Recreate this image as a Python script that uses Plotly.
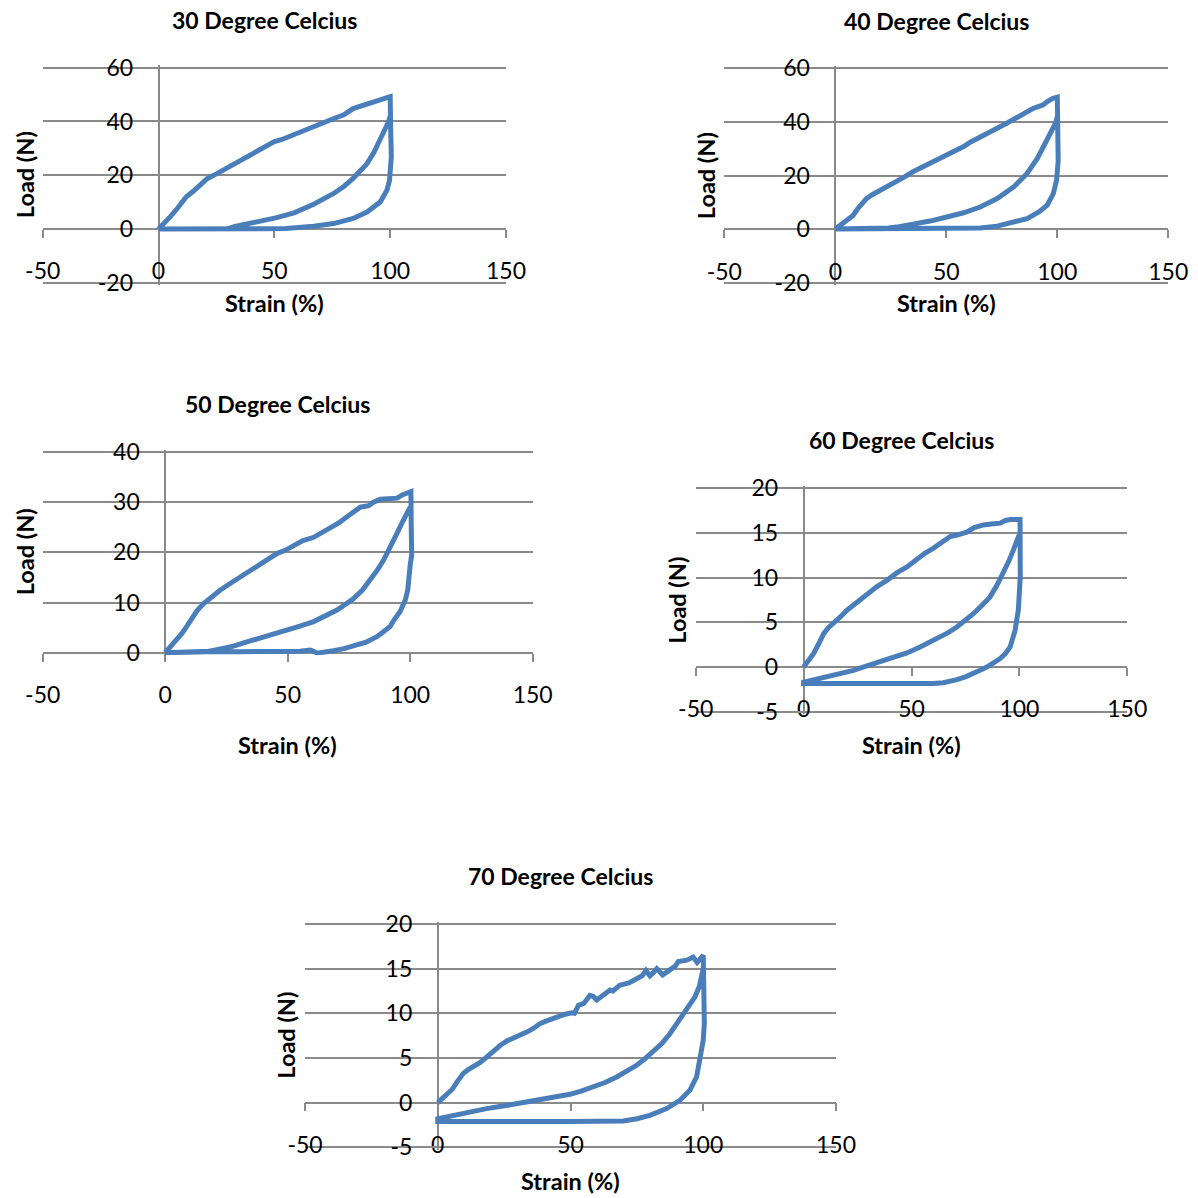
import plotly.graph_objects as go

W, H = 1198, 1198

# ---- data: load–strain loops at each test temperature ----
titles = ["30 Degree Celcius", "40 Degree Celcius", "50 Degree Celcius",
          "60 Degree Celcius", "70 Degree Celcius"]

x_ticks = [-50, 0, 50, 100, 150]

strain_30 = [0, 3, 5, 8, 10, 12, 15, 18, 21, 25, 30, 33, 37, 41, 44, 47, 50, 53, 57, 62, 67, 72,
             76, 80, 84, 88, 92, 95, 98, 100,
             100.2, 100.5,
             99.7, 98.6, 95.7, 93, 90, 84, 80, 75.6, 67, 60, 56, 55, 45, 30, 15, 0,
             10, 20, 30, 33, 38, 44, 51, 58.5, 67, 75.6, 80, 84, 87, 90, 93, 95.7, 98, 99.3, 100]
load_30 = [0, 2.5, 4.5, 7.5, 10, 12, 14, 16.5, 18.7, 20.5, 23, 24.5, 26.5, 28, 29.5, 31, 32.5, 33.2,
           34.5, 36.5, 38.2, 39.8, 41.2, 42.5, 44.8, 45.8, 46.8, 47.5, 48.6, 49.2,
           38, 26.8,
           18, 14.4, 10, 8, 6.3, 3.9, 2.8, 2, 1, 0.5, 0.6, 0.2, 0.1, 0.05, 0, 0,
           0, 0, 0.1, 0.9, 1.8, 2.9, 4.2, 6, 9.2, 13.2, 15.8, 18.8, 21.5, 24.3, 28.5, 33, 37, 39.9, 42]

strain_40 = [0, 2, 5, 8, 10, 11.8, 14, 17, 20, 24, 27.6, 31, 35, 39, 42.7, 46, 50.2, 54, 57.8, 61,
             65.3, 69, 72.9, 77, 80.4, 83, 86.4, 89, 91.7, 93.5, 95.5, 98, 100,
             100.3, 100.4, 100.4,
             99.7, 98.2, 95.5, 91.7, 86.4, 80.4, 72.9, 65.3, 58.5, 57.5, 56.5, 45, 30, 15, 0,
             10, 20, 24, 27.6, 35, 42.7, 50.2, 57.8, 65.3, 72.9, 80.4, 86.4, 91, 95.5, 99.2, 100]
load_40 = [0, 1.2, 3.25, 5.1, 7.5, 9.5, 11.4, 13, 14.3, 16, 17.6, 19.4, 21.4, 23, 24.3, 25.7, 27.4,
           29, 30.8, 32.5, 34.5, 36, 37.6, 39.4, 41, 42.6, 43.9, 45, 45.8, 46.3, 47.6, 48.8, 49.2,
           40, 33, 25.5,
           18.25, 13.25, 8.9, 6.4, 3.9, 2.6, 1.1, 0.4, 0.35, 0.6, 0.2, 0.1, 0.05, 0, 0,
           0, 0.1, 0.4, 0.75, 1.75, 3, 4.5, 6.1, 8.25, 11.4, 15.75, 20.75, 26.4, 33.25, 39.5, 42]

strain_50 = [0, 3.5, 6.9, 9, 11, 13, 15.7, 19, 22.5, 26.5, 30.7, 35, 38.8, 42, 45.7, 49, 52.4, 56,
             60.6, 64, 67.4, 71, 74.2, 77, 79.6, 83, 85, 87.8, 91, 94.6, 97, 100.3,
             100.4, 100.6,
             100, 99.7, 99, 98, 95.9, 93.5, 91.8, 88, 86.4, 82, 78.3, 73, 68.7, 64, 61.9, 60.5, 59.2,
             55, 45, 30, 15, 5, 0,
             10, 17, 22, 27.9, 33, 38.8, 44, 49.7, 55, 60.6, 65, 70.1, 73.5, 76.9, 80.5, 83.7,
             86.5, 89.2, 92, 94.6, 97, 99.3, 100]
load_50 = [0, 1.9, 3.9, 5.4, 6.85, 8.4, 9.8, 11.2, 12.5, 13.8, 15.1, 16.4, 17.8, 18.8, 19.8, 20.4,
           21.4, 22.3, 23, 24, 24.8, 25.9, 27.1, 28.2, 29, 29.3, 30, 30.6, 30.8, 30.8, 31.5, 32.1,
           26, 19.5,
           17.5, 15.1, 12.5, 10.5, 8.2, 6.6, 5.2, 3.8, 3.2, 2.1, 1.5, 0.8, 0.4, 0, -0.1, 0.3, 0.55,
           0.3, 0.2, 0.2, 0.25, 0.2, 0,
           0.1, 0.2, 0.7, 1.3, 2.1, 2.9, 3.7, 4.5, 5.3, 6.2, 7.2, 8.5, 9.6, 10.8, 12.5, 14.5,
           16.4, 18.5, 21, 23.8, 26.2, 28.4, 29]

strain_60 = [0, 2.5, 4.6, 7, 9.3, 11.5, 13.9, 17, 20.1, 24.5, 29.3, 34, 38.6, 43, 47.9, 52.5, 56,
             60.2, 64, 67.9, 71.5, 75.6, 79, 83.3, 87, 91.1, 93.5, 95.7, 100.3,
             100.4, 100.4,
             99.5, 98, 95.7, 93.5, 91.1, 88, 84.9, 81.5, 78.7, 75, 71, 67.5, 64.8, 60, 40, 20, 0,
             0,
             10.8, 23.1, 29, 35.5, 41, 47.9, 54, 58.5, 63.3, 67, 71, 75, 78.7, 82.5, 86.4, 89.7,
             92.6, 95, 97.2, 99.9]
load_60 = [0, 0.7, 1.5, 2.6, 3.74, 4.4, 4.87, 5.6, 6.36, 7.2, 8.2, 9, 9.7, 10.5, 11.2, 12.15, 12.7,
           13.3, 13.9, 14.6, 14.8, 15.1, 15.6, 15.9, 16.0, 16.1, 16.4, 16.5, 16.5,
           13, 10.1,
           6.36, 4.1, 2.24, 1.5, 0.94, 0.45, 0, -0.4, -0.74, -1.1, -1.41, -1.62, -1.75, -1.85,
           -1.85, -1.85, -1.85,
           -1.7,
           -1.1, -0.37, 0.1, 0.56, 1.05, 1.57, 2.24, 2.75, 3.36, 3.85, 4.48, 5.2, 5.98, 6.85, 7.85,
           9.2, 10.5, 11.8, 13.1, 14.8]

strain_70 = [0, 3.4, 5.5, 7.2, 9.6, 11.5, 13.4, 16, 18.4, 21, 23.5, 26, 28.5, 31, 33.5, 36, 38.5,
             40.5, 44.8, 48, 50.5, 51.5, 53, 55, 57.3, 58.5, 59.9, 62, 64.9, 66, 68.6, 72, 74.9, 77,
             78.4, 79.9, 81, 82.5, 84.7, 86.5, 88.1, 89.5, 90.6, 93.8, 96.2, 97.7, 99, 100,
             100.2, 100.4,
             100, 98.8, 97.5, 95, 91.2, 86.2, 79.9, 75, 69.9, 50, 25, 0,
             0,
             8.4, 18.4, 28.5, 38.5, 46, 49.8, 54, 58.6, 63, 67.4, 71, 74.9, 78, 81.2, 84.5, 87.5,
             90, 92.5, 94.8, 96.9, 98.5, 99.4, 100]
load_70 = [0, 0.82, 1.5, 2.3, 3.25, 3.7, 4.0, 4.5, 5.1, 5.8, 6.4, 6.9, 7.2, 7.5, 7.9, 8.3, 8.85,
           9.1, 9.6, 9.9, 10.05, 10.0, 10.9, 11.1, 12.0, 11.9, 11.5, 11.9, 12.6, 12.5, 13.15, 13.4,
           13.9, 14.2, 14.8, 14.2, 14.5, 15.0, 14.3, 14.6, 15.0, 15.3, 15.8, 15.95, 16.3, 15.7,
           16.2, 16.5,
           13, 8.85,
           7.0, 4.75, 2.9, 1.4, 0.26, -0.67, -1.42, -1.8, -2.06, -2.1, -2.1, -2.1,
           -1.8,
           -1.23, -0.67, -0.19, 0.35, 0.7, 0.93, 1.3, 1.75, 2.25, 2.87, 3.45, 4.18, 4.9, 5.68,
           6.65, 7.74, 8.8, 10, 11, 11.85, 13, 14.1, 15]

y_ranges = [[-20, 60], [-20, 60], [0, 40], [-5, 20], [-5, 20]]
y_dticks = [20, 20, 10, 5, 5]

# ---- layout (pixel geometry of each panel) ----
# plot box: left, right, top, bottom (px)
boxes = [(42.7, 506.0, 67.7, 282.7),
         (724.3, 1168.3, 68.3, 282.7),
         (42.7, 532.7, 452.0, 652.7),
         (695.7, 1127.3, 488.3, 711.7),
         (305.0, 836.0, 924.0, 1147.3)]
# title centre (x, y) px
title_pos = [(264, 20), (936, 21), (277.5, 404), (901.5, 440), (560.5, 876)]
# x-axis title centre y, y-axis title centre x (px)
xtitle_y = [303, 303, 745, 745, 1181]
ytitle_x = [25, 706.7, 25, 676.7, 286]

series = [(strain_30, load_30), (strain_40, load_40), (strain_50, load_50),
          (strain_60, load_60), (strain_70, load_70)]

BLUE = "#4A7EBB"
GRID = "#8A8A8A"
FONT = "Lato"
X_RANGE = [-50, 150]
EDGE_PAD = 2.5   # px of head-room so the outermost gridlines are kept
TICK_SIZE = 23


def label(v):
    return str(int(v)) if float(v).is_integer() else str(v)


fig = go.Figure()
layout = dict(
    width=W, height=H,
    margin=dict(l=0, r=0, t=0, b=0, pad=0, autoexpand=False),
    paper_bgcolor="white", plot_bgcolor="white", showlegend=False,
    font=dict(family=FONT, size=TICK_SIZE, color="#000000"),
)
annotations = []

for i, ((sx, ly), box, yr, dt) in enumerate(zip(series, boxes, y_ranges, y_dticks), start=1):
    sfx = "" if i == 1 else str(i)
    fig.add_trace(go.Scatter(
        x=sx, y=ly, mode="lines",
        line=dict(color=BLUE, width=5),
        xaxis="x" + sfx, yaxis="y" + sfx, hoverinfo="skip",
    ))
    left, right, top, bottom = box
    # widen the y extent by a couple of pixels, keeping the data scale
    upp = (yr[1] - yr[0]) / (bottom - top)
    yr_ext = [yr[0] - EDGE_PAD * upp, yr[1] + EDGE_PAD * upp]
    top_e, bottom_e = top - EDGE_PAD, bottom + EDGE_PAD

    xdom = [left / W, right / W]
    ydom = [1 - bottom_e / H, 1 - top_e / H]
    # axes cross at the data origin
    xpos = ydom[0] + (0 - yr_ext[0]) / (yr_ext[1] - yr_ext[0]) * (ydom[1] - ydom[0])
    ypos = xdom[0] + (0 - X_RANGE[0]) / (X_RANGE[1] - X_RANGE[0]) * (xdom[1] - xdom[0])

    y_ticks = []
    v = yr[0]
    while v <= yr[1] + 1e-9:
        y_ticks.append(v)
        v += dt

    layout["xaxis" + sfx] = dict(
        domain=xdom, range=X_RANGE, anchor="free", position=xpos,
        tickmode="array", tickvals=x_ticks, ticktext=[label(t) for t in x_ticks],
        showgrid=False, zeroline=False,
        showline=True, linecolor=GRID, linewidth=1.7,
        ticks="outside", ticklen=8, tickwidth=1.7, tickcolor=GRID,
        ticklabelstandoff=14, layer="below traces",
        tickfont=dict(family=FONT, size=TICK_SIZE, color="#000000"),
        fixedrange=True,
    )
    layout["yaxis" + sfx] = dict(
        domain=ydom, range=yr_ext, anchor="free", position=ypos,
        tickmode="array", tickvals=y_ticks, ticktext=[label(t) for t in y_ticks],
        showgrid=True, gridcolor=GRID, gridwidth=1.7, zeroline=False,
        showline=True, linecolor=GRID, linewidth=1.7,
        ticks="outside", ticklen=6, tickwidth=1.7, tickcolor=GRID,
        ticklabelstandoff=14, layer="below traces",
        tickfont=dict(family=FONT, size=TICK_SIZE, color="#000000"),
        fixedrange=True,
    )

    tx, ty = title_pos[i - 1]
    annotations.append(dict(
        text="<b>" + titles[i - 1] + "</b>", x=tx / W, y=1 - ty / H,
        xref="paper", yref="paper", xanchor="center", yanchor="middle",
        showarrow=False, font=dict(family=FONT, size=23, color="#000000"),
    ))
    annotations.append(dict(
        text="<b>Strain (%)</b>", x=(left + right) / 2 / W, y=1 - xtitle_y[i - 1] / H,
        xref="paper", yref="paper", xanchor="center", yanchor="middle",
        showarrow=False, font=dict(family=FONT, size=23.5, color="#000000"),
    ))
    annotations.append(dict(
        text="<b>Load (N)</b>", x=ytitle_x[i - 1] / W, y=1 - (top + bottom) / 2 / H,
        xref="paper", yref="paper", xanchor="center", yanchor="middle", textangle=-90,
        showarrow=False, font=dict(family=FONT, size=23.5, color="#000000"),
    ))

layout["annotations"] = annotations
fig.update_layout(**layout)
fig.write_html("out.html")
